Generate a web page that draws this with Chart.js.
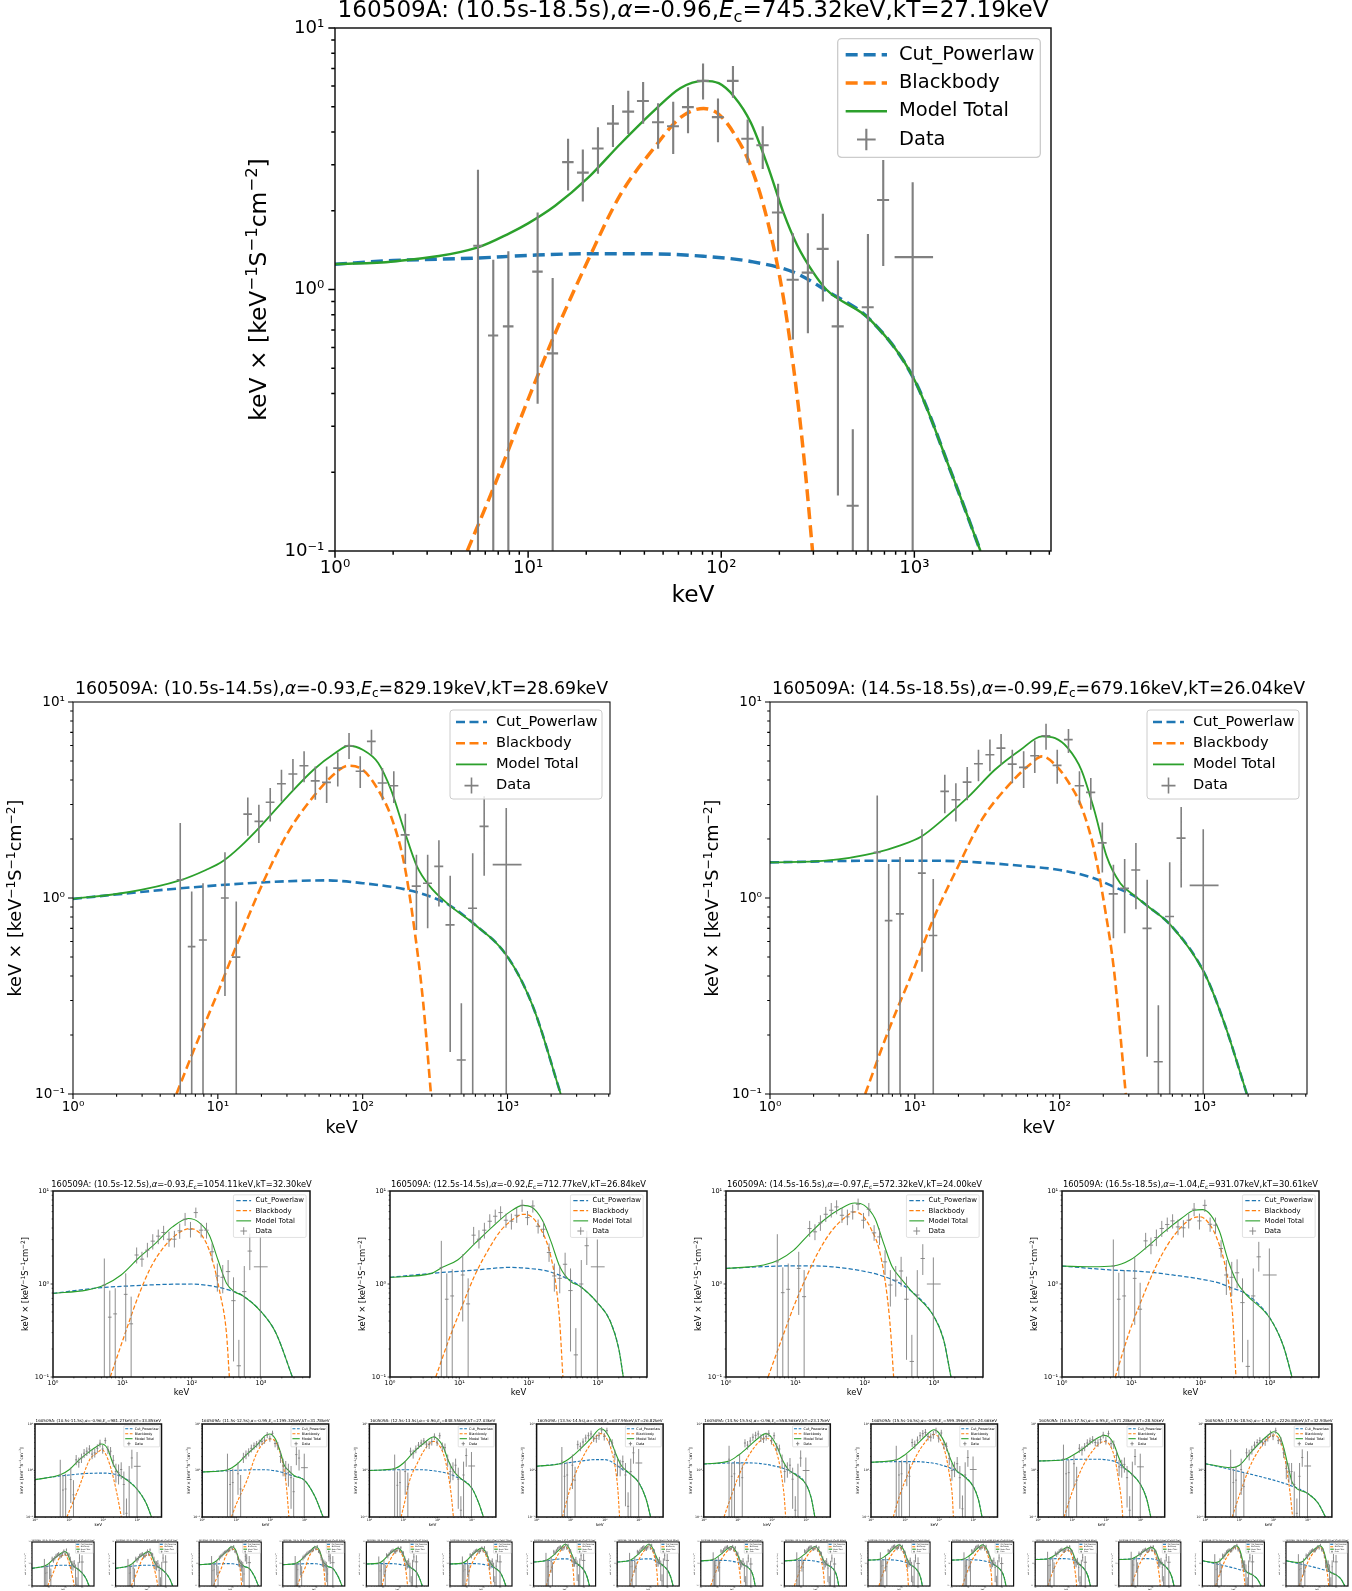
<!DOCTYPE html>
<html>
<head>
<meta charset="utf-8">
<script src="https://cdn.jsdelivr.net/npm/chart.js@4.4.1/dist/chart.umd.min.js"></script>
<style>
  html, body { margin: 0; padding: 0; background: #fff; }
  #page { position: relative; width: 1352px; height: 1591px; overflow: hidden; background: #fff; }
  #page canvas { position: absolute; }
</style>
</head>
<body>
<div id="page"></div>
<script>
/* =========================
   DATOS COMPARTIDOS
========================= */

// energias de los canales (keV) y bordes de bin
const energy   = [5.5, 6.6, 7.9, 11.2, 13.4, 16.1, 19.2, 23.0, 27.5, 33.0, 39.4, 47.1, 56.4, 67.3, 80.5, 96.2, 115, 137, 164, 197, 235, 281, 336, 402, 480, 575, 690, 980];
const energyLo = [5.2, 6.2, 7.4, 10.5, 12.5, 15.0, 17.9, 21.4, 25.6, 30.7, 36.6, 43.8, 52.4, 62.6, 74.8, 89.4, 107, 127, 152, 183, 218, 261, 312, 373, 446, 534, 641, 790];
const energyHi = [5.8, 7.0, 8.4, 11.9, 14.3, 17.2, 20.6, 24.6, 29.5, 35.4, 42.2, 50.5, 60.4, 72.1, 86.3, 103, 123, 147, 176, 211, 252, 301, 360, 431, 515, 616, 740, 1250];

const xMajor = [1, 10, 100, 1000];
const yMajor = [0.1, 1, 10];
const legendLabels = ["Cut_Powerlaw", "Blackbody", "Model Total", "Data"];

// titulos
const grb = "160509A";
const intervals = ["10.5s-18.5s", "10.5s-14.5s", "14.5s-18.5s", "10.5s-12.5s", "12.5s-14.5s", "14.5s-16.5s", "16.5s-18.5s",
  "10.5s-11.5s", "11.5s-12.5s", "12.5s-13.5s", "13.5s-14.5s", "14.5s-15.5s", "15.5s-16.5s", "16.5s-17.5s", "17.5s-18.5s",
  "10.5s-11.0s", "11.0s-11.5s", "11.5s-12.0s", "12.0s-12.5s", "12.5s-13.0s", "13.0s-13.5s", "13.5s-14.0s", "14.0s-14.5s",
  "14.5s-15.0s", "15.0s-15.5s", "15.5s-16.0s", "16.0s-16.5s", "16.5s-17.0s", "17.0s-17.5s", "17.5s-18.0s", "18.0s-18.5s"];
const alphas = ["-0.96", "-0.93", "-0.99", "-0.93", "-0.92", "-0.97", "-1.04",
  "-0.96", "-0.95", "-0.96", "-0.98", "-0.96", "-0.99", "-0.95", "-1.15",
  "-0.95", "-0.97", "-0.94", "-0.96", "-0.95", "-0.97", "-0.97", "-0.99",
  "-0.95", "-0.97", "-0.98", "-1.00", "-0.94", "-0.96", "-1.12", "-1.17"];
const ecuts = ["745.32", "829.19", "679.16", "1054.11", "712.77", "572.32", "931.07",
  "981.27", "1195.32", "848.55", "637.95", "558.56", "599.39", "571.28", "2226.83",
  "1012.40", "955.81", "1240.66", "1150.23", "870.14", "826.97", "655.02", "620.48",
  "540.31", "577.92", "612.85", "586.40", "560.73", "583.19", "2104.55", "2351.02"];
const kts = ["27.19", "28.69", "26.04", "32.30", "26.84", "24.00", "30.61",
  "33.85", "31.78", "27.03", "26.82", "23.17", "24.66", "28.50", "32.93",
  "34.12", "33.51", "32.07", "31.44", "27.36", "26.71", "27.10", "26.55",
  "23.48", "22.86", "24.91", "24.39", "28.83", "28.17", "33.30", "32.55"];

/* =========================
   PANEL 0 (10.5s-18.5s)
========================= */
const flux0 = [1.47, 0.667, 0.723, 1.17, 0.57, 3.07, 2.80, 3.46, 4.31, 4.79, 5.26, 4.36, 4.21, 4.98, 6.28, 4.56, 6.28, 3.77, 3.56, 1.97, 1.09, 1.16, 1.43, 0.723, 0.149, 0.855, 2.20, 1.33];
const hi0   = [2.87, 1.30, 1.40, 1.97, 1.106, 3.77, 3.43, 4.17, 5.08, 5.76, 6.22, 5.15, 5.22, 5.93, 7.31, 5.37, 7.16, 4.47, 4.21, 2.54, 1.64, 1.64, 1.95, 1.29, 0.292, 1.63, 3.13, 2.57];
const lo0   = [0.01, 0.01, 0.01, 0.366, 0.01, 2.39, 2.17, 2.77, 3.51, 3.93, 4.30, 3.45, 3.30, 3.96, 5.33, 3.66, 5.41, 3.05, 2.89, 1.40, 0.644, 0.681, 0.90, 0.163, 0.01, 0.01, 1.23, 0.01];
const cplE0 = [1, 2, 5.5, 10, 20, 40, 81, 142, 240, 350, 595, 1000, 1570, 2200];
const cplF0 = [1.25, 1.29, 1.32, 1.35, 1.37, 1.37, 1.34, 1.28, 1.16, 0.99, 0.762, 0.452, 0.195, 0.1];
const bbE0  = [4.84, 6.65, 10, 13.8, 20.4, 30, 44.5, 61.6, 81, 97, 117, 142, 174, 211, 247, 271, 297];
const bbF0  = [0.1, 0.176, 0.38, 0.68, 1.29, 2.3, 3.45, 4.55, 4.92, 4.68, 3.93, 2.97, 1.82, 0.908, 0.393, 0.21, 0.1];
const totE0 = [1, 2, 5.5, 8, 10, 13.8, 20.4, 30, 44.5, 61.6, 81, 97, 117, 142, 174, 211, 247, 300, 350, 595, 1000, 1570, 2200];
const totF0 = [1.25, 1.28, 1.45, 1.64, 1.79, 2.09, 2.67, 3.6, 4.8, 5.9, 6.28, 6.15, 5.45, 4.36, 2.97, 1.95, 1.48, 1.16, 1.0, 0.762, 0.452, 0.195, 0.1];

/* PANEL 1 (10.5s-14.5s) */
const flux1 = [1.24, 0.565, 0.611, 1.0, 0.499, 2.68, 2.46, 3.08, 3.83, 4.29, 4.73, 3.96, 3.89, 4.60, 5.98, 4.43, 6.30, 3.86, 3.74, 2.10, 1.15, 1.19, 1.45, 0.729, 0.149, 0.887, 2.32, 1.48];
const hi1   = [2.41, 1.08, 1.19, 1.71, 0.96, 3.26, 2.99, 3.64, 4.51, 5.12, 5.60, 4.69, 4.69, 5.53, 6.95, 5.28, 7.22, 4.60, 4.43, 2.69, 1.66, 1.66, 1.97, 1.30, 0.290, 1.69, 3.30, 2.88];
const lo1   = [0.01, 0.01, 0.01, 0.316, 0.01, 2.08, 1.91, 2.46, 3.11, 3.54, 3.89, 3.17, 3.05, 3.71, 5.12, 3.64, 5.38, 3.15, 3.05, 1.49, 0.687, 0.70, 0.906, 0.164, 0.01, 0.01, 1.30, 0.01];
const cplE1 = [1, 5.47, 20, 56, 100, 193, 290, 396, 580, 1000, 1500, 2330];
const cplF1 = [0.99, 1.12, 1.20, 1.23, 1.19, 1.11, 1.02, 0.92, 0.743, 0.502, 0.279, 0.1];
const bbE1  = [5.18, 6.7, 10, 13.3, 20, 30.3, 45.8, 69, 80, 100, 128, 157, 193, 228, 262, 296];
const bbF1  = [0.1, 0.162, 0.33, 0.56, 1.15, 2.14, 3.30, 4.51, 4.73, 4.51, 3.56, 2.61, 1.51, 0.687, 0.29, 0.1];
const totE1 = [1, 2.4, 5.47, 8.27, 10.8, 14.3, 20, 30.3, 45.8, 64.6, 80, 100, 128, 157, 193, 237, 290, 396, 580, 1000, 1500, 2330];
const totF1 = [0.99, 1.07, 1.23, 1.39, 1.54, 1.83, 2.35, 3.30, 4.51, 5.49, 5.98, 5.71, 4.89, 3.56, 2.23, 1.45, 1.15, 0.92, 0.743, 0.502, 0.279, 0.1];

/* PANEL 2 (14.5s-18.5s) */
const flux2 = [1.71, 0.767, 0.83, 1.34, 0.644, 3.50, 3.17, 3.90, 4.84, 5.38, 5.82, 4.82, 4.64, 5.32, 6.73, 4.75, 6.43, 3.74, 3.46, 1.91, 1.05, 1.12, 1.39, 0.70, 0.146, 0.805, 2.02, 1.16];
const hi2   = [3.33, 1.49, 1.62, 2.24, 1.25, 4.25, 3.85, 4.66, 5.71, 6.43, 6.87, 5.71, 5.60, 6.37, 7.74, 5.71, 7.28, 4.43, 4.09, 2.43, 1.48, 1.58, 1.91, 1.24, 0.284, 1.52, 2.91, 2.24];
const lo2   = [0.01, 0.01, 0.01, 0.421, 0.01, 2.71, 2.46, 3.15, 3.94, 4.43, 4.79, 3.85, 3.64, 4.34, 5.71, 3.83, 5.50, 2.99, 2.82, 1.35, 0.624, 0.661, 0.877, 0.155, 0.01, 0.01, 1.13, 0.01];
const cplE2 = [1, 5.5, 13.6, 27, 53.8, 100, 162, 244, 322, 408, 596, 1000, 1370, 1960];
const cplF2 = [1.52, 1.55, 1.55, 1.52, 1.46, 1.39, 1.28, 1.13, 1.03, 0.905, 0.715, 0.413, 0.23, 0.1];
const bbE2  = [4.54, 6.6, 10, 13.6, 19.9, 29, 43.7, 62, 75.6, 93, 114, 141, 173, 206, 237, 286];
const bbF2  = [0.1, 0.212, 0.447, 0.8, 1.45, 2.51, 3.71, 4.79, 5.28, 4.79, 3.94, 2.93, 1.76, 0.871, 0.43, 0.1];
const totE2 = [1, 2.44, 5.5, 7.86, 11.1, 15.6, 23.6, 35.7, 53.8, 75.6, 93, 114, 141, 173, 211, 262, 322, 408, 596, 1000, 1370, 1960];
const totF2 = [1.52, 1.55, 1.71, 1.85, 2.06, 2.51, 3.30, 4.51, 5.71, 6.68, 6.54, 5.82, 4.51, 2.82, 1.63, 1.19, 1.04, 0.905, 0.715, 0.413, 0.23, 0.1];

/* PANEL 3 (10.5s-12.5s) */
const flux3 = [0.975, 0.44, 0.477, 0.774, 0.373, 2.05, 1.85, 2.31, 2.89, 3.27, 3.58, 3.03, 3.03, 3.73, 4.97, 3.88, 5.86, 3.79, 3.79, 2.22, 1.22, 1.18, 1.36, 0.662, 0.132, 0.828, 2.26, 1.53];
const hi3   = [1.88, 0.85, 0.90, 1.30, 0.731, 2.47, 2.22, 2.77, 3.43, 3.85, 4.22, 3.66, 3.73, 4.47, 5.81, 4.65, 6.63, 4.47, 4.55, 2.73, 1.66, 1.60, 1.81, 1.18, 0.251, 1.56, 3.49, 3.21];
const lo3   = [0.01, 0.01, 0.01, 0.241, 0.01, 1.66, 1.53, 1.93, 2.35, 2.68, 2.96, 2.51, 2.47, 3.06, 4.22, 3.16, 5.14, 3.16, 3.08, 1.78, 0.828, 0.794, 0.953, 0.147, 0.01, 0.01, 1.41, 0.01];
const cplE3 = [1, 5.5, 12.8, 40, 100, 193, 340, 526, 1000, 1650, 2840];
const cplF3 = [0.794, 0.92, 0.953, 0.99, 1.0, 0.953, 0.863, 0.762, 0.506, 0.296, 0.1];
const bbE3  = [6.7, 11, 16.9, 26, 40, 61.6, 94.5, 145, 193, 257, 318, 350];
const bbF3  = [0.1, 0.296, 0.731, 1.53, 2.51, 3.43, 3.95, 3.21, 1.96, 0.794, 0.296, 0.1];
const totE3 = [1, 3.05, 5.5, 9.6, 16.9, 30, 53, 90, 125, 180, 240, 318, 420, 526, 1000, 1650, 2840];
const totF3 = [0.794, 0.86, 0.975, 1.25, 1.88, 2.73, 4.11, 5.06, 4.65, 3.35, 1.81, 1.02, 0.82, 0.762, 0.506, 0.296, 0.1];

/* PANEL 4 (12.5s-14.5s) */
const flux4 = [1.50, 0.686, 0.744, 1.25, 0.611, 3.35, 3.03, 3.79, 4.73, 5.35, 5.86, 4.85, 4.73, 5.48, 7.01, 5.18, 6.90, 4.18, 3.88, 2.18, 1.22, 1.15, 1.63, 0.85, 0.173, 1.0, 2.58, 1.53];
const hi4   = [2.91, 1.30, 1.44, 2.09, 1.15, 4.11, 3.79, 4.55, 5.62, 6.31, 6.85, 5.71, 5.71, 6.58, 8.07, 6.10, 7.94, 4.93, 4.65, 2.73, 1.66, 1.60, 2.17, 1.47, 0.335, 1.81, 3.73, 3.01];
const lo4   = [0.01, 0.01, 0.01, 0.395, 0.01, 2.62, 2.41, 3.08, 3.95, 4.47, 4.93, 4.02, 3.85, 4.54, 5.96, 4.29, 5.86, 3.49, 3.21, 1.73, 0.828, 0.794, 1.15, 0.188, 0.01, 0.01, 1.60, 0.01];
const cplE4 = [1, 5.7, 16.8, 53.5, 100, 198, 352, 544, 1000, 1500, 2000, 2320];
const cplF4 = [1.18, 1.33, 1.41, 1.51, 1.47, 1.36, 1.15, 0.953, 0.62, 0.40, 0.2, 0.1];
const bbE4  = [4.57, 7.06, 10.9, 16.8, 26, 40, 62, 83, 110, 148, 198, 246, 280, 312];
const bbF4  = [0.1, 0.251, 0.572, 1.25, 2.31, 3.79, 5.06, 5.62, 5.27, 3.95, 2.31, 1.02, 0.4, 0.1];
const totE4 = [1, 3.96, 5.7, 9.45, 16.8, 30, 53.5, 83, 110, 158, 211, 282, 405, 544, 1000, 1500, 2000, 2320];
const totF4 = [1.18, 1.30, 1.51, 1.81, 2.73, 4.11, 5.96, 7.01, 6.74, 4.85, 2.84, 1.53, 1.06, 0.953, 0.62, 0.40, 0.2, 0.1];

/* PANEL 5 (14.5s-16.5s) */
const flux5 = [1.73, 0.807, 0.877, 1.47, 0.731, 3.95, 3.64, 4.54, 5.62, 6.21, 6.74, 5.48, 5.27, 5.96, 7.20, 4.85, 6.37, 3.55, 3.21, 1.73, 0.975, 1.10, 1.38, 0.686, 0.147, 0.762, 1.88, 1.0];
const hi5   = [3.43, 1.51, 1.66, 2.22, 1.41, 4.77, 4.39, 5.48, 6.74, 7.43, 7.94, 6.58, 6.31, 7.14, 8.28, 5.81, 7.43, 4.29, 3.95, 2.31, 1.41, 1.56, 1.96, 1.2, 0.284, 1.41, 2.68, 1.93];
const lo5   = [0.01, 0.01, 0.01, 0.465, 0.01, 3.21, 2.96, 3.73, 4.65, 5.18, 5.62, 4.54, 4.29, 4.93, 6.21, 3.95, 5.35, 2.91, 2.62, 1.25, 0.572, 0.731, 0.936, 0.153, 0.01, 0.01, 1.25, 0.01];
const cplE5 = [1, 5.77, 14.5, 34, 80, 163, 290, 480, 1000, 1380, 1760];
const cplF5 = [1.47, 1.56, 1.57, 1.53, 1.41, 1.25, 1.06, 0.828, 0.447, 0.251, 0.1];
const bbE5  = [4.04, 6.19, 9.5, 14.5, 22.2, 34, 52, 71.8, 92.7, 123, 163, 203, 234, 262];
const bbF5  = [0.1, 0.241, 0.572, 1.2, 2.31, 3.79, 5.18, 5.96, 5.48, 3.95, 2.31, 0.936, 0.349, 0.1];
const totE5 = [1, 3.5, 5.77, 9.5, 14.5, 25.7, 45.2, 71.8, 99, 141, 188, 250, 332, 480, 1000, 1380, 1760];
const totF5 = [1.47, 1.6, 1.81, 2.31, 3.21, 4.85, 6.47, 7.43, 7.01, 5.06, 2.73, 1.53, 1.15, 0.828, 0.447, 0.251, 0.1];

/* PANEL 6 (16.5s-18.5s) */
const flux6 = [1.56, 0.686, 0.744, 1.15, 0.536, 2.91, 2.62, 3.16, 3.95, 4.36, 4.77, 4.11, 4.02, 4.85, 6.37, 4.77, 7.01, 4.39, 4.29, 2.41, 1.25, 1.18, 1.32, 0.631, 0.13, 0.744, 1.96, 1.25];
const hi6   = [3.01, 1.32, 1.41, 1.93, 1.03, 3.55, 3.16, 3.85, 4.77, 5.18, 5.62, 4.93, 4.85, 5.71, 7.43, 5.71, 8.07, 5.18, 5.18, 2.96, 1.81, 1.73, 1.84, 1.15, 0.251, 1.47, 2.84, 2.41];
const lo6   = [0.01, 0.01, 0.01, 0.364, 0.01, 2.35, 2.09, 2.55, 3.21, 3.64, 3.95, 3.35, 3.16, 3.95, 5.35, 3.85, 5.96, 3.64, 3.49, 1.93, 0.762, 0.744, 0.90, 0.144, 0.01, 0.01, 1.36, 0.01];
const cplE6 = [1, 5.47, 14.7, 39.5, 100, 188, 288, 437, 1000, 1570, 2080];
const cplF6 = [1.56, 1.41, 1.36, 1.25, 1.13, 1.02, 0.90, 0.794, 0.429, 0.213, 0.1];
const bbE6  = [5.86, 9.6, 14.7, 22.5, 34.4, 52.6, 75.1, 99.6, 132, 176, 233, 288, 323];
const bbF6  = [0.1, 0.321, 0.731, 1.53, 2.73, 4.11, 5.06, 5.27, 4.47, 2.96, 1.41, 0.485, 0.1];
const totE6 = [1, 2.69, 5.47, 9.6, 16.9, 29.8, 52.6, 80.2, 106, 141, 188, 248, 330, 437, 1000, 1570, 2080];
const totF6 = [1.56, 1.53, 1.56, 1.81, 2.51, 3.64, 5.06, 6.21, 6.31, 5.48, 3.64, 1.81, 1.06, 0.794, 0.429, 0.213, 0.1];

/* PANEL 7 (10.5s-11.5s) */
const flux7 = [0.80, 0.38, 0.40, 0.64, 0.30, 1.70, 1.50, 1.85, 2.35, 2.60, 2.90, 2.25, 2.40, 3.00, 3.85, 2.90, 4.40, 2.80, 2.60, 1.65, 0.95, 0.90, 1.05, 0.50, 0.12, 0.62, 1.86, 1.23];
const hi7   = [1.70, 0.80, 0.85, 1.15, 0.62, 2.15, 1.90, 2.30, 2.90, 3.15, 3.50, 2.80, 2.95, 3.65, 4.60, 3.55, 5.10, 3.40, 3.20, 2.15, 1.40, 1.35, 1.50, 0.95, 0.25, 1.25, 2.80, 2.50];
const lo7   = [0.01, 0.01, 0.01, 0.20, 0.01, 1.30, 1.15, 1.45, 1.85, 2.05, 2.30, 1.75, 1.90, 2.40, 3.15, 2.30, 3.75, 2.25, 2.05, 1.20, 0.55, 0.50, 0.65, 0.11, 0.01, 0.01, 1.10, 0.01];
const cplE7 = [1, 3, 10, 30, 100, 200, 400, 1000, 1800, 2600];
const cplF7 = [0.635, 0.72, 0.80, 0.86, 0.88, 0.84, 0.70, 0.39, 0.2, 0.1];
const bbE7  = [8.6, 12, 20, 40, 70, 90, 150, 250, 340];
const bbF7  = [0.1, 0.18, 0.457, 1.71, 2.46, 2.81, 1.45, 0.328, 0.1];
const totE7 = [1, 5.5, 10, 20, 40, 70, 90, 130, 200, 300, 400, 1000, 1800, 2600];
const totF7 = [0.635, 0.81, 1.04, 1.71, 2.58, 3.42, 3.72, 3.05, 1.33, 0.81, 0.70, 0.39, 0.2, 0.1];

/* PANEL 8 (11.5s-12.5s) */
const flux8 = [0.95, 0.50, 0.55, 0.85, 0.40, 1.90, 2.20, 2.50, 3.00, 3.40, 3.70, 3.90, 4.20, 4.50, 5.80, 4.90, 6.30, 3.80, 3.40, 2.00, 1.25, 1.10, 0.90, 0.70, 0.35, 2.20, 1.85, 1.15];
const hi8   = [2.30, 1.00, 1.10, 1.50, 0.80, 2.40, 2.70, 3.00, 3.60, 4.00, 4.30, 4.60, 4.90, 5.30, 6.70, 5.70, 7.20, 4.50, 4.10, 2.60, 1.80, 1.60, 1.40, 1.25, 0.70, 3.30, 2.80, 2.30];
const lo8   = [0.01, 0.01, 0.01, 0.30, 0.01, 1.45, 1.75, 2.00, 2.45, 2.80, 3.10, 3.25, 3.50, 3.75, 4.95, 4.15, 5.45, 3.15, 2.75, 1.45, 0.75, 0.65, 0.45, 0.15, 0.05, 1.30, 1.00, 0.01];
const cplE8 = [1, 10, 50, 100, 200, 400, 1000, 2000, 3500];
const cplF8 = [0.93, 1.01, 1.04, 1.02, 0.93, 0.787, 0.615, 0.278, 0.1];
const bbE8  = [7.2, 10, 20, 40, 70, 100, 150, 250, 300, 347];
const bbF8  = [0.1, 0.19, 0.585, 2.4, 4.24, 4.76, 3.9, 1.05, 0.39, 0.1];
const totE8 = [1, 5.5, 10, 20, 40, 70, 95, 140, 200, 250, 350, 500, 1000, 2000, 3500];
const totF8 = [0.93, 1.04, 1.33, 2.2, 3.5, 5.61, 6.1, 4.76, 2.38, 1.33, 0.98, 0.77, 0.615, 0.278, 0.1];

/* PANEL 9 (12.5s-13.5s) */
const flux9 = [1.05, 0.48, 0.55, 0.95, 0.45, 2.60, 2.30, 2.90, 3.50, 3.90, 4.30, 3.70, 3.60, 4.20, 5.40, 4.10, 5.60, 3.30, 3.10, 1.70, 0.95, 1.05, 1.30, 0.65, 0.14, 0.80, 2.10, 1.25];
const hi9   = [2.20, 0.95, 1.05, 1.60, 0.90, 3.10, 2.80, 3.45, 4.10, 4.60, 5.00, 4.40, 4.30, 5.00, 6.30, 4.90, 6.50, 4.00, 3.80, 2.20, 1.40, 1.50, 1.80, 1.15, 0.28, 1.55, 3.00, 2.50];
const lo9   = [0.01, 0.01, 0.01, 0.30, 0.01, 2.05, 1.80, 2.35, 2.90, 3.20, 3.60, 3.00, 2.90, 3.45, 4.55, 3.35, 4.80, 2.65, 2.45, 1.20, 0.55, 0.62, 0.85, 0.15, 0.01, 0.01, 1.20, 0.01];
const cplE9 = [1, 10, 30, 100, 200, 300, 1000, 1600, 2200];
const cplF9 = [1.0, 1.04, 1.04, 0.96, 0.86, 0.77, 0.42, 0.2, 0.1];
const bbE9  = [8.5, 11, 15, 25, 40, 60, 75, 100, 150, 200, 250, 290];
const bbF9  = [0.1, 0.22, 0.6, 1.4, 2.7, 3.9, 4.24, 3.8, 2.2, 0.9, 0.3, 0.1];
const totE9 = [1, 5.5, 10, 20, 40, 75, 100, 150, 200, 300, 500, 1000, 1600, 2200];
const totF9 = [1.0, 1.1, 1.45, 2.5, 3.9, 5.25, 4.8, 3.1, 1.71, 0.96, 0.65, 0.42, 0.2, 0.1];

/* PANEL 10 (13.5s-14.5s) */
const flux10 = [1.60, 0.75, 0.80, 1.30, 0.62, 3.60, 3.30, 4.10, 5.00, 5.60, 6.10, 5.00, 4.90, 5.60, 7.40, 5.40, 7.20, 4.20, 3.90, 2.20, 1.25, 1.20, 1.55, 0.80, 0.17, 0.95, 2.40, 1.45];
const hi10   = [3.20, 1.45, 1.55, 2.20, 1.20, 4.40, 4.00, 4.90, 5.90, 6.60, 7.20, 5.90, 5.90, 6.70, 8.60, 6.40, 8.30, 5.00, 4.70, 2.80, 1.80, 1.70, 2.10, 1.45, 0.34, 1.80, 3.50, 2.90];
const lo10   = [0.01, 0.01, 0.01, 0.40, 0.01, 2.85, 2.60, 3.30, 4.10, 4.60, 5.00, 4.10, 3.95, 4.55, 6.30, 4.40, 6.10, 3.45, 3.15, 1.65, 0.75, 0.75, 1.00, 0.17, 0.01, 0.01, 1.40, 0.01];
const cplE10 = [1, 5.5, 20, 50, 100, 300, 1000, 1600, 2200];
const cplF10 = [1.23, 1.40, 1.60, 1.71, 1.71, 1.10, 0.54, 0.25, 0.1];
const bbE10  = [5.7, 10, 20, 40, 60, 75, 100, 150, 200, 240, 270];
const bbF10  = [0.1, 0.45, 1.6, 3.9, 5.7, 6.2, 5.6, 3.0, 1.2, 0.4, 0.1];
const totE10 = [1, 5.5, 10, 20, 40, 75, 100, 150, 200, 300, 500, 1000, 1600, 2200];
const totF10 = [1.23, 1.45, 1.9, 3.0, 5.0, 7.9, 7.2, 4.4, 2.5, 1.3, 0.9, 0.54, 0.25, 0.1];

/* PANEL 11 (14.5s-15.5s) */
const flux11 = [1.75, 0.75, 0.85, 1.40, 0.70, 3.90, 3.50, 4.30, 5.20, 5.70, 6.10, 5.00, 4.80, 5.40, 6.30, 4.40, 5.60, 3.20, 2.90, 1.60, 0.95, 1.05, 1.30, 0.65, 0.14, 0.75, 1.85, 1.00];
const hi11   = [3.40, 1.45, 1.60, 2.20, 1.35, 4.70, 4.30, 5.20, 6.20, 6.80, 7.20, 6.00, 5.80, 6.50, 7.40, 5.30, 6.60, 3.90, 3.60, 2.20, 1.40, 1.50, 1.85, 1.15, 0.28, 1.40, 2.70, 1.90];
const lo11   = [0.01, 0.01, 0.01, 0.45, 0.01, 3.15, 2.80, 3.50, 4.30, 4.70, 5.10, 4.10, 3.90, 4.40, 5.30, 3.60, 4.70, 2.55, 2.30, 1.10, 0.55, 0.70, 0.85, 0.15, 0.01, 0.01, 1.20, 0.01];
const cplE11 = [1, 5.5, 20, 50, 100, 300, 1000, 1400, 1800];
const cplF11 = [1.38, 1.45, 1.46, 1.40, 1.28, 1.0, 0.5, 0.26, 0.1];
const bbE11  = [3.9, 6, 10, 20, 40, 65, 100, 150, 200, 230, 250];
const bbF11  = [0.1, 0.25, 0.7, 2.0, 4.0, 5.0, 4.0, 1.9, 0.6, 0.25, 0.1];
const totE11 = [1, 5.5, 10, 20, 40, 65, 100, 150, 200, 300, 500, 1000, 1400, 1800];
const totF11 = [1.38, 1.6, 2.1, 3.2, 5.0, 6.2, 5.0, 2.9, 1.7, 1.05, 0.8, 0.5, 0.26, 0.1];

/* PANEL 12 (15.5s-16.5s) */
const flux12 = [1.70, 0.80, 0.85, 1.45, 0.75, 4.00, 3.60, 4.50, 5.60, 6.20, 6.60, 5.40, 5.20, 5.90, 7.20, 5.00, 6.40, 3.60, 3.30, 1.80, 1.00, 1.10, 1.40, 0.70, 0.15, 0.80, 1.90, 1.05];
const hi12   = [3.40, 1.50, 1.65, 2.25, 1.40, 4.80, 4.40, 5.40, 6.70, 7.40, 7.80, 6.50, 6.30, 7.10, 8.30, 6.00, 7.50, 4.40, 4.00, 2.40, 1.45, 1.55, 1.95, 1.25, 0.29, 1.50, 2.75, 2.00];
const lo12   = [0.01, 0.01, 0.01, 0.46, 0.01, 3.20, 2.90, 3.70, 4.60, 5.10, 5.50, 4.40, 4.20, 4.80, 6.20, 4.00, 5.40, 2.90, 2.60, 1.30, 0.60, 0.72, 0.95, 0.15, 0.01, 0.01, 1.20, 0.01];
const cplE12 = [1, 5.5, 20, 50, 100, 300, 1000, 1400, 1800];
const cplF12 = [1.5, 1.55, 1.55, 1.48, 1.35, 0.98, 0.45, 0.24, 0.1];
const bbE12  = [4.5, 7, 10, 20, 40, 70, 100, 150, 200, 240, 260];
const bbF12  = [0.1, 0.3, 0.6, 1.9, 4.2, 6.0, 5.0, 2.4, 0.8, 0.3, 0.1];
const totE12 = [1, 5.5, 10, 20, 40, 70, 100, 150, 200, 300, 500, 1000, 1400, 1800];
const totF12 = [1.5, 1.7, 2.2, 3.4, 5.6, 7.5, 6.3, 3.7, 2.0, 1.05, 0.78, 0.45, 0.24, 0.1];

/* PANEL 13 (16.5s-17.5s) */
const flux13 = [1.80, 0.85, 0.90, 1.40, 0.62, 3.00, 2.70, 3.20, 3.90, 4.30, 4.60, 4.00, 3.90, 4.60, 5.80, 4.40, 6.20, 3.80, 3.60, 2.10, 1.20, 1.15, 1.35, 0.70, 0.14, 0.80, 2.00, 1.20];
const hi13   = [3.60, 1.60, 1.70, 2.20, 1.20, 3.70, 3.30, 3.90, 4.70, 5.10, 5.50, 4.80, 4.70, 5.50, 6.80, 5.30, 7.20, 4.60, 4.40, 2.70, 1.70, 1.70, 1.90, 1.25, 0.28, 1.55, 2.90, 2.30];
const lo13   = [0.01, 0.01, 0.01, 0.42, 0.01, 2.40, 2.10, 2.60, 3.20, 3.60, 3.80, 3.30, 3.20, 3.80, 4.90, 3.60, 5.30, 3.10, 2.90, 1.60, 0.75, 0.70, 0.90, 0.16, 0.01, 0.01, 1.30, 0.01];
const cplE13 = [1, 5.5, 20, 50, 100, 200, 300, 1000, 1500, 2000];
const cplF13 = [1.6, 1.68, 1.75, 1.75, 1.7, 1.5, 1.2, 0.5, 0.25, 0.1];
const bbE13  = [5.7, 10, 20, 40, 60, 85, 120, 170, 230, 280, 300];
const bbF13  = [0.1, 0.35, 1.2, 2.7, 3.7, 4.2, 3.7, 2.0, 0.6, 0.2, 0.1];
const totE13 = [1, 5.5, 10, 20, 40, 60, 85, 120, 170, 230, 300, 500, 1000, 1500, 2000];
const totF13 = [1.6, 1.7, 2.1, 2.9, 4.3, 5.2, 5.7, 5.2, 3.5, 1.9, 1.25, 0.9, 0.5, 0.25, 0.1];

/* PANEL 14 (17.5s-18.5s) */
const flux14 = [1.20, 0.55, 0.62, 1.05, 0.45, 2.40, 2.20, 2.80, 3.50, 4.00, 4.40, 4.00, 4.20, 5.00, 6.20, 5.40, 7.20, 4.40, 4.30, 2.40, 1.10, 0.95, 0.95, 0.50, 0.12, 0.75, 1.90, 1.25];
const hi14   = [2.80, 1.10, 1.25, 1.80, 0.90, 3.00, 2.80, 3.40, 4.20, 4.70, 5.20, 4.80, 5.00, 5.90, 7.20, 6.40, 8.30, 5.20, 5.20, 3.00, 1.60, 1.45, 1.45, 0.95, 0.25, 1.45, 2.85, 2.60];
const lo14   = [0.01, 0.01, 0.01, 0.30, 0.01, 1.85, 1.65, 2.20, 2.85, 3.30, 3.70, 3.30, 3.40, 4.20, 5.30, 4.50, 6.20, 3.70, 3.50, 1.85, 0.65, 0.55, 0.50, 0.10, 0.01, 0.01, 1.20, 0.01];
const cplE14 = [1, 10, 100, 300, 1000, 2000, 3300];
const cplF14 = [1.4, 0.95, 0.62, 0.48, 0.32, 0.2, 0.1];
const bbE14  = [6.1, 10, 20, 40, 70, 100, 150, 200, 250, 300, 360];
const bbF14  = [0.1, 0.3, 1.2, 3.0, 5.0, 5.8, 4.6, 2.4, 0.9, 0.35, 0.1];
const totE14 = [1, 5.5, 10, 20, 40, 70, 100, 150, 200, 250, 300, 350, 1000, 2000, 3300];
const totF14 = [1.4, 1.15, 1.3, 2.3, 4.0, 5.8, 6.8, 5.5, 3.0, 1.5, 0.85, 0.55, 0.32, 0.2, 0.1];

const series = [
  [flux0, lo0, hi0, cplE0, cplF0, bbE0, bbF0, totE0, totF0],
  [flux1, lo1, hi1, cplE1, cplF1, bbE1, bbF1, totE1, totF1],
  [flux2, lo2, hi2, cplE2, cplF2, bbE2, bbF2, totE2, totF2],
  [flux3, lo3, hi3, cplE3, cplF3, bbE3, bbF3, totE3, totF3],
  [flux4, lo4, hi4, cplE4, cplF4, bbE4, bbF4, totE4, totF4],
  [flux5, lo5, hi5, cplE5, cplF5, bbE5, bbF5, totE5, totF5],
  [flux6, lo6, hi6, cplE6, cplF6, bbE6, bbF6, totE6, totF6],
  [flux7, lo7, hi7, cplE7, cplF7, bbE7, bbF7, totE7, totF7],
  [flux8, lo8, hi8, cplE8, cplF8, bbE8, bbF8, totE8, totF8],
  [flux9, lo9, hi9, cplE9, cplF9, bbE9, bbF9, totE9, totF9],
  [flux10, lo10, hi10, cplE10, cplF10, bbE10, bbF10, totE10, totF10],
  [flux11, lo11, hi11, cplE11, cplF11, bbE11, bbF11, totE11, totF11],
  [flux12, lo12, hi12, cplE12, cplF12, bbE12, bbF12, totE12, totF12],
  [flux13, lo13, hi13, cplE13, cplF13, bbE13, bbF13, totE13, totF13],
  [flux14, lo14, hi14, cplE14, cplF14, bbE14, bbF14, totE14, totF14]
];

/* =========================
   ESTILO
========================= */
const FAM = "'DejaVu Sans', sans-serif";
const C_CPL = "#1f77b4", C_BB = "#ff7f0e", C_TOT = "#2ca02c", C_DATA = "#808080";
const X_MAX = 5100;

const SUP = { "-": "\u207B", "0": "\u2070", "1": "\u00B9", "2": "\u00B2", "3": "\u00B3", "4": "\u2074" };
function powLabel(v) {
  const e = Math.round(Math.log10(v));
  return "10" + String(e).split("").map(c => SUP[c]).join("");
}
function isMajor(v, list) {
  return list.some(m => Math.abs(v / m - 1) < 1e-6);
}
function tickList(majors, max) {
  const out = [];
  majors.concat([majors[majors.length - 1] * 10]).forEach(m => {
    for (let k = 1; k <= 9; k++) {
      const v = +(k * m).toPrecision(6);
      if (v >= majors[0] && v <= max) out.push(v);
    }
  });
  return out;
}
const xTicks = tickList(xMajor, X_MAX);
const yTicks = tickList(yMajor.slice(0, 2), 10);

/* =========================
   PLUGINS (marco, titulo, eje y, leyenda)
========================= */
function framePlugin(st) {
  return {
    id: "frameTicks",
    afterDatasetsDraw(chart) {
      const { ctx, chartArea: a } = chart;
      const s = st.s;
      const xs = chart.scales.x, ys = chart.scales.y;
      ctx.save();
      ctx.strokeStyle = "#000";
      ctx.lineWidth = st.tickW;
      ctx.beginPath();
      xs.ticks.forEach(t => {
        const px = xs.getPixelForValue(t.value);
        if (px < a.left - 0.5 || px > a.right + 0.5) return;
        const len = isMajor(t.value, xMajor) ? 5 * s : 2.8 * s;
        ctx.moveTo(px, a.bottom); ctx.lineTo(px, a.bottom + len);
      });
      ys.ticks.forEach(t => {
        const py = ys.getPixelForValue(t.value);
        const len = isMajor(t.value, yMajor) ? 5 * s : 2.8 * s;
        ctx.moveTo(a.left, py); ctx.lineTo(a.left - len, py);
      });
      ctx.stroke();
      ctx.strokeStyle = "#111";
      ctx.lineWidth = st.frameW;
      ctx.strokeRect(a.left, a.top, a.right - a.left, a.bottom - a.top);
      ctx.restore();
    }
  };
}

// dibuja trozos de texto (normal, cursiva, sub/superindice) seguidos
function drawRuns(ctx, runs, fs, x, y) {
  const fontOf = r => (r.it ? "italic " : "") + ((r.sub || r.sup) ? fs * 0.7 : fs) + "px " + FAM;
  const widths = runs.map(r => { ctx.font = fontOf(r); return ctx.measureText(r.t).width; });
  const total = widths.reduce((p, w) => p + w, 0);
  let cx = x - total / 2;
  runs.forEach((r, i) => {
    ctx.font = fontOf(r);
    const dy = r.sub ? fs * 0.2 : (r.sup ? -fs * 0.38 : 0);
    ctx.fillText(r.t, cx, y + dy);
    cx += widths[i];
  });
}

function titlePlugin(st, k) {
  const runs = [
    { t: grb + ": (" + intervals[k] + ")," },
    { t: "\u03B1", it: true },
    { t: "=" + alphas[k] + "," },
    { t: "E", it: true },
    { t: "c", sub: true },
    { t: "=" + ecuts[k] + "keV,kT=" + kts[k] + "keV" }
  ];
  return {
    id: "mplTitle",
    afterDraw(chart) {
      const { ctx, chartArea: a } = chart;
      ctx.save();
      ctx.fillStyle = "#000";
      ctx.textBaseline = "alphabetic";
      ctx.textAlign = "left";
      drawRuns(ctx, runs, st.titleSize, (a.left + a.right) / 2, a.top - 8 * st.s);
      ctx.restore();
    }
  };
}

function yLabelPlugin(st) {
  const runs = [
    { t: "keV \u00D7 [keV" }, { t: "\u22121", sup: true }, { t: "S" }, { t: "\u22121", sup: true },
    { t: "cm" }, { t: "\u22122", sup: true }, { t: "]" }
  ];
  return {
    id: "mplYLabel",
    afterDraw(chart) {
      const { ctx, chartArea: a } = chart;
      const fs = st.labelSize;
      ctx.save();
      ctx.translate(a.left - 58 * st.s, (a.top + a.bottom) / 2);
      ctx.rotate(-Math.PI / 2);
      ctx.fillStyle = "#000";
      ctx.textBaseline = "alphabetic";
      ctx.textAlign = "left";
      drawRuns(ctx, runs, fs, 0, 0.36 * fs);
      ctx.restore();
    }
  };
}

function legendPlugin(st) {
  return {
    id: "mplLegend",
    afterDraw(chart) {
      const { ctx, chartArea: a } = chart;
      const s = st.s;
      const w = 152 * s, h = 89 * s;
      const x0 = a.right - 8 * s - w, y0 = a.top + 8 * s;
      ctx.save();
      ctx.beginPath();
      if (ctx.roundRect) ctx.roundRect(x0, y0, w, h, 3 * s); else ctx.rect(x0, y0, w, h);
      ctx.fillStyle = "rgba(255,255,255,0.8)";
      ctx.fill();
      ctx.strokeStyle = "#cccccc";
      ctx.lineWidth = Math.max(s, 0.6);
      ctx.stroke();
      const rows = [12, 33.2, 54.4, 75.6].map(v => y0 + v * s);
      const hx1 = x0 + 6 * s, hx2 = x0 + 37 * s, tx = x0 + 46 * s;
      [[C_CPL, true], [C_BB, true], [C_TOT, false]].forEach((it, i) => {
        ctx.beginPath();
        ctx.strokeStyle = it[0];
        ctx.lineWidth = it[1] ? st.dashW : st.totW;
        ctx.setLineDash(it[1] ? st.dash : []);
        ctx.moveTo(hx1, rows[i]); ctx.lineTo(hx2, rows[i]);
        ctx.stroke();
      });
      ctx.setLineDash([]);
      const cx = (hx1 + hx2) / 2;
      ctx.beginPath();
      ctx.strokeStyle = C_DATA;
      ctx.lineWidth = st.barW;
      ctx.moveTo(cx - 7 * s, rows[3]); ctx.lineTo(cx + 7 * s, rows[3]);
      ctx.moveTo(cx, rows[3] - 8 * s); ctx.lineTo(cx, rows[3] + 8 * s);
      ctx.stroke();
      ctx.fillStyle = "#000";
      ctx.font = (14.6 * s) + "px " + FAM;
      ctx.textBaseline = "middle";
      ctx.textAlign = "left";
      legendLabels.forEach((t, i) => ctx.fillText(t, tx, rows[i]));
      ctx.restore();
    }
  };
}

/* =========================
   CONSTRUIR UN PANEL
========================= */
const page = document.getElementById("page");

function pts(xs, ys) {
  return xs.map((x, i) => ({ x: x, y: ys[i] }));
}

function crearPanel(box) {
  const s = box.W / 537;
  const cl = Math.floor(box.L - 75 * s), ct = Math.floor(box.T - 32 * s);
  const padL = box.L - cl, padT = box.T - ct;
  const cw = Math.ceil(padL + box.W + 12 * s), ch = Math.ceil(padT + box.H + 50 * s);
  const padR = cw - padL - box.W, padB = ch - padT - box.H;

  const cv = document.createElement("canvas");
  cv.width = cw; cv.height = ch;
  cv.style.left = cl + "px"; cv.style.top = ct + "px";
  cv.style.width = cw + "px"; cv.style.height = ch + "px";
  page.appendChild(cv);

  const st = {
    s: s,
    titleSize: 17.35 * s,
    labelSize: 17.6 * s,
    dashW: Math.max(2.6 * s, 1.1),
    totW: Math.max(1.8 * s, 1.1),
    barW: Math.max(1.6 * s, 0.9),
    dash: [Math.max(9 * s, 3), Math.max(4.5 * s, 1.6)],
    tickW: Math.max(1.1 * s, 0.7),
    frameW: s >= 1 ? 1.1 * s : (s > 0.2 ? 1.5 : 1.2)
  };

  const [flux, lo, hi, cplE, cplF, bbE, bbF, totE, totF] = series[box.d];
  const bars = [];
  energy.forEach((e, i) => {
    bars.push({ x: e, y: lo[i] }, { x: e, y: hi[i] }, { x: e, y: null });
    bars.push({ x: energyLo[i], y: flux[i] }, { x: energyHi[i], y: flux[i] }, { x: energyHi[i], y: null });
  });

  const xfs = 17.5 * s;
  const lh = xfs * 1.2;

  new Chart(cv, {
    type: "scatter",
    data: {
      datasets: [
        { label: "Data", data: bars, showLine: true, spanGaps: false, borderColor: C_DATA, borderWidth: st.barW, pointRadius: 0, pointHoverRadius: 0 },
        { label: "Model Total", data: pts(totE, totF), showLine: true, borderColor: C_TOT, borderWidth: st.totW, pointRadius: 0, cubicInterpolationMode: "monotone" },
        { label: "Blackbody", data: pts(bbE, bbF), showLine: true, borderColor: C_BB, borderWidth: st.dashW, borderDash: st.dash, pointRadius: 0, cubicInterpolationMode: "monotone" },
        { label: "Cut_Powerlaw", data: pts(cplE, cplF), showLine: true, borderColor: C_CPL, borderWidth: st.dashW, borderDash: st.dash, pointRadius: 0, cubicInterpolationMode: "monotone" }
      ]
    },
    options: {
      responsive: false,
      animation: false,
      devicePixelRatio: 1,
      events: [],
      layout: { padding: { left: 0, top: padT, right: padR, bottom: 0 }, autoPadding: false },
      plugins: { legend: { display: false }, tooltip: { enabled: false } },
      scales: {
        x: {
          type: "logarithmic", position: "bottom", min: 1, max: X_MAX,
          grid: { display: false, drawTicks: false }, border: { display: false },
          afterBuildTicks: sc => { sc.ticks = xTicks.map(v => ({ value: v })); },
          ticks: {
            autoSkip: false, maxRotation: 0, padding: 5 * s, color: "#000",
            font: { family: FAM, size: 13.6 * s },
            callback: v => isMajor(v, xMajor) ? powLabel(v) : ""
          },
          title: { display: true, text: "keV", color: "#000", font: { family: FAM, size: xfs },
                   padding: { top: 0, bottom: padB - 34 * s - lh / 2 } },
          afterFit: sc => { sc.height = padB; }
        },
        y: {
          type: "logarithmic", position: "left", min: 0.1, max: 10,
          grid: { display: false, drawTicks: false }, border: { display: false },
          afterBuildTicks: sc => { sc.ticks = yTicks.map(v => ({ value: v })); },
          ticks: {
            autoSkip: false, padding: 8 * s, color: "#000",
            font: { family: FAM, size: 13.6 * s },
            callback: v => isMajor(v, yMajor) ? powLabel(v) : ""
          },
          title: { display: false },
          afterFit: sc => { sc.width = padL; }
        }
      }
    },
    plugins: [framePlugin(st), titlePlugin(st, box.t), yLabelPlugin(st), legendPlugin(st)]
  });
}

/* =========================
   REJILLA DE PANELES
========================= */
const boxes = [];
boxes.push({ L: 335, T: 28, W: 716, H: 523, d: 0, t: 0 });
[73, 770].forEach((L, i) => boxes.push({ L: L, T: 702, W: 537, H: 392, d: 1 + i, t: 1 + i }));
[53, 390, 726, 1062].forEach((L, i) => boxes.push({ L: L, T: 1191, W: 257, H: 186, d: 3 + i, t: 3 + i }));
for (let i = 0; i < 8; i++) boxes.push({ L: 35 + 167.2 * i, T: 1424, W: 126.5, H: 93, d: 7 + i, t: 7 + i });
for (let j = 0; j < 16; j++) boxes.push({ L: 32 + 83.6 * j, T: 1542, W: 62, H: 44, d: 7 + Math.floor(j / 2), t: 15 + j });

boxes.forEach(crearPanel);
</script>
</body>
</html>
